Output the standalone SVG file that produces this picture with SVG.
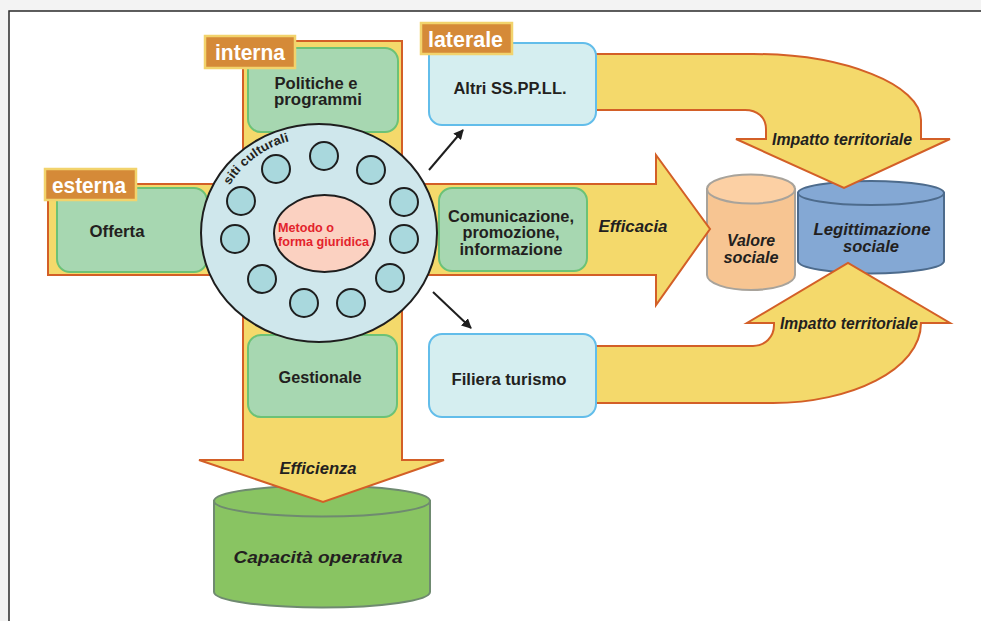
<svg xmlns="http://www.w3.org/2000/svg" width="981" height="621" viewBox="0 0 981 621">
<defs>
<style>
.band{fill:#f4d96b;stroke:#d35f27;stroke-width:2;stroke-linejoin:miter}
.gbox{fill:#a7d7b1;stroke:#6cc276;stroke-width:2}
.bbox{fill:#d5eef0;stroke:#62bdea;stroke-width:2}
.lab{fill:#d58a38;stroke:#f2d36c;stroke-width:2.5}
.labt{font-family:"Liberation Sans",Arial,sans-serif;font-weight:bold;font-size:22px;fill:#ffffff}
.t{font-family:"Liberation Sans",Arial,sans-serif;font-weight:bold;font-size:16px;fill:#231f20;text-anchor:middle}
.ti{font-family:"Liberation Sans",Arial,sans-serif;font-weight:bold;font-style:italic;font-size:16px;fill:#231f20;text-anchor:middle}
.sc{fill:#a9d8dd;stroke:#1e1e1e;stroke-width:2}
.conn{stroke:#1e1e1e;stroke-width:2;fill:none}
</style>
<marker id="ah" viewBox="0 0 10 10" refX="9" refY="5" markerWidth="5" markerHeight="5" orient="auto" markerUnits="strokeWidth">
<path d="M0,0 L10,5 L0,10 Z" fill="#1e1e1e"/>
</marker>
<path id="arcSiti" d="M216,233 A103,96 0 0 1 319,137" fill="none"/>
</defs>
<rect x="0" y="0" width="981" height="621" fill="#f3f3f3"/>
<rect x="9" y="11" width="1000" height="700" fill="#ffffff" stroke="#2a2a2a" stroke-width="1.5"/>

<g id="capacita">
<path d="M214,501 V592 A108,15.5 0 0 0 430,592 V501 Z" fill="#89c462" stroke="#6f8a70" stroke-width="2"/>
<ellipse cx="322" cy="501" rx="108" ry="15.5" fill="#89c462" stroke="#6f8a70" stroke-width="2"/>
<text class="ti" x="318" y="563" font-size="22" textLength="169" lengthAdjust="spacingAndGlyphs">Capacità operativa</text>
</g>
<g id="valore">
<path d="M707,189 V275 A44,15 0 0 0 795,275 V189 Z" fill="#f7c592" stroke="#a8a39b" stroke-width="2"/>
<ellipse cx="751" cy="189" rx="44" ry="14.5" fill="#fcd0a4" stroke="#a8a39b" stroke-width="2"/>
<text class="ti" x="751" y="246" font-size="18" textLength="48" lengthAdjust="spacingAndGlyphs">Valore</text>
<text class="ti" x="751" y="263" font-size="18" textLength="55" lengthAdjust="spacingAndGlyphs">sociale</text>
</g>
<g id="legittimazione">
<path d="M798,193 V261 A73,12.5 0 0 0 944,261 V193 Z" fill="#84a8d4" stroke="#4d6b8c" stroke-width="2"/>
<ellipse cx="871" cy="193" rx="73" ry="12" fill="#84a8d4" stroke="#4d6b8c" stroke-width="2"/>
<text class="ti" x="872" y="235" font-size="18" textLength="117" lengthAdjust="spacingAndGlyphs">Legittimazione</text>
<text class="ti" x="871" y="252" font-size="18" textLength="56" lengthAdjust="spacingAndGlyphs">sociale</text>
</g>

<g id="arrows">
<path id="interna-band" class="band" d="M243,41 H402 V460 H444 L323,502 L199,460 H243 Z"/>
<path id="esterna-band" class="band" d="M48,184 H656 V155 L710,229 L656,305 V275 H48 Z"/>
<path id="impatto-top" class="band" d="M590,54 H753 C845,54 921,85 921,120 V139 H950 L844,188 L736,139 H766 V129 C766,117 757,110 745,110 H590 Z"/>
<path id="impatto-bottom" class="band" d="M590,346 H753 C765,346 774,337 774,325 V323 H747 L848,263 L950,323 H921 C921,370 850,403 773,403 H590 Z"/>
<text class="ti" x="318" y="474" font-size="17" textLength="77" lengthAdjust="spacingAndGlyphs">Efficienza</text>
<text class="ti" x="633" y="232" font-size="18" textLength="69" lengthAdjust="spacingAndGlyphs">Efficacia</text>
<text class="ti" x="842" y="145" font-size="17" textLength="140" lengthAdjust="spacingAndGlyphs">Impatto territoriale</text>
<text class="ti" x="849" y="329" font-size="17" textLength="138" lengthAdjust="spacingAndGlyphs">Impatto territoriale</text>
</g>

<g id="politiche">
<rect class="gbox" x="248" y="48" width="150" height="84" rx="13"/>
<text class="t" x="316" y="89" textLength="83" lengthAdjust="spacingAndGlyphs">Politiche e</text>
<text class="t" x="318" y="105" textLength="88" lengthAdjust="spacingAndGlyphs">programmi</text>
</g>
<g id="gestionale">
<rect class="gbox" x="248" y="335" width="149" height="82" rx="13"/>
<text class="t" x="320" y="383" font-size="17" textLength="83" lengthAdjust="spacingAndGlyphs">Gestionale</text>
</g>
<g id="offerta">
<rect class="gbox" x="57" y="188" width="150" height="84" rx="13"/>
<text class="t" x="117" y="237" font-size="17" textLength="55" lengthAdjust="spacingAndGlyphs">Offerta</text>
</g>
<g id="comunicazione">
<rect class="gbox" x="439" y="188" width="148" height="83" rx="13"/>
<text class="t" x="511" y="222" textLength="126" lengthAdjust="spacingAndGlyphs">Comunicazione,</text>
<text class="t" x="511" y="238" textLength="97" lengthAdjust="spacingAndGlyphs">promozione,</text>
<text class="t" x="511" y="255" textLength="103" lengthAdjust="spacingAndGlyphs">informazione</text>
</g>
<g id="altri">
<rect class="bbox" x="429" y="43" width="167" height="82" rx="13"/>
<text class="t" x="510" y="94" font-size="17" textLength="113" lengthAdjust="spacingAndGlyphs">Altri SS.PP.LL.</text>
</g>
<g id="filiera">
<rect class="bbox" x="429" y="334" width="167" height="83" rx="13"/>
<text class="t" x="509" y="385" font-size="17" textLength="115" lengthAdjust="spacingAndGlyphs">Filiera turismo</text>
</g>

<g id="siti">
<ellipse cx="319" cy="233" rx="118" ry="109" fill="#cfe7ec" stroke="#1e1e1e" stroke-width="2"/>
<circle class="sc" cx="324" cy="156" r="14"/>
<circle class="sc" cx="371" cy="170" r="14"/>
<circle class="sc" cx="276" cy="169" r="14"/>
<circle class="sc" cx="404" cy="202" r="14"/>
<circle class="sc" cx="241" cy="201" r="14"/>
<circle class="sc" cx="404" cy="239" r="14"/>
<circle class="sc" cx="235" cy="239" r="14"/>
<circle class="sc" cx="390" cy="278" r="14"/>
<circle class="sc" cx="262" cy="279" r="14"/>
<circle class="sc" cx="351" cy="303" r="14"/>
<circle class="sc" cx="304" cy="303" r="14"/>
<text font-family="'Liberation Sans',Arial,sans-serif" font-weight="bold" font-size="12.5" fill="#231f20"><textPath href="#arcSiti" startOffset="50" textLength="76" lengthAdjust="spacingAndGlyphs">siti culturali</textPath></text>
</g>
<g id="metodo">
<ellipse cx="324.5" cy="233.5" rx="50.5" ry="38.5" fill="#fbd1c1" stroke="#1e1e1e" stroke-width="2"/>
<text x="278" y="232" font-family="'Liberation Sans',Arial,sans-serif" font-weight="bold" font-size="12" fill="#e3232c" textLength="56" lengthAdjust="spacingAndGlyphs">Metodo o</text>
<text x="278" y="246" font-family="'Liberation Sans',Arial,sans-serif" font-weight="bold" font-size="12" fill="#e3232c" textLength="91" lengthAdjust="spacingAndGlyphs">forma giuridica</text>
</g>

<g id="label-interna">
<rect class="lab" x="205" y="36" width="90" height="32"/>
<text class="labt" x="215" y="60" textLength="70" lengthAdjust="spacingAndGlyphs">interna</text>
</g>
<g id="label-esterna">
<rect class="lab" x="45" y="169" width="91" height="31"/>
<text class="labt" x="52" y="193" textLength="74" lengthAdjust="spacingAndGlyphs">esterna</text>
</g>
<g id="label-laterale">
<rect class="lab" x="421" y="23" width="91" height="31"/>
<text class="labt" x="428" y="47" textLength="75" lengthAdjust="spacingAndGlyphs">laterale</text>
</g>

<g id="connectors">
<line class="conn" x1="429" y1="170" x2="463" y2="130" marker-end="url(#ah)"/>
<line class="conn" x1="433" y1="292" x2="471" y2="328" marker-end="url(#ah)"/>
</g>
</svg>
